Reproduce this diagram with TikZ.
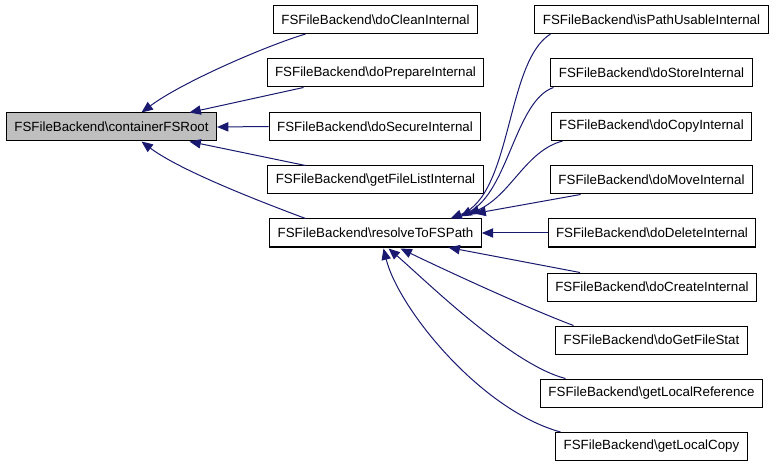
\documentclass[tikz,border=0pt]{standalone}
\usepackage{fontspec}
\setmainfont{Liberation Sans}
\usetikzlibrary{arrows.meta,calc}
\definecolor{calledge}{RGB}{25,25,112}
\definecolor{rootfill}{gray}{0.75}
\tikzset{
	fnbox/.style={draw=black, line width=0.75pt, fill=white, minimum height=21pt, inner xsep=6pt, inner ysep=0pt, font=\fontsize{10}{12}\selectfont},
	rootbox/.style={fnbox, fill=rootfill},
	callline/.style={draw=calledge, line width=0.75pt, -{Triangle[length=8.5pt,width=7pt]}},
}
\newcommand{\fsb}[1]{FSFileBackend\textbackslash #1}

\begin{document}
\begin{tikzpicture}[x=0.75pt,y=-0.75pt]
			\useasboundingbox (0,0) rectangle (776,467);

			% callee
			\node[rootbox] (root) at (111.5,127) {\fsb{containerFSRoot}};

			% middle column
			\node[fnbox] (doclean) at (375.5,19.5) {\fsb{doCleanInternal}};
			\node[fnbox] (doprepare) at (375.5,73) {\fsb{doPrepareInternal}};
			\node[fnbox] (dosecure) at (375,126.5) {\fsb{doSecureInternal}};
			\node[fnbox] (getfilelist) at (375.5,180) {\fsb{getFileListInternal}};
			\node[fnbox] (resolve) at (375.5,233) {\fsb{resolveToFSPath}};

			% right column
			\node[fnbox] (ispath) at (651.5,19.5) {\fsb{isPathUsableInternal}};
			\node[fnbox] (dostore) at (651.5,73) {\fsb{doStoreInternal}};
			\node[fnbox] (docopy) at (651.5,126.5) {\fsb{doCopyInternal}};
			\node[fnbox] (domove) at (651.5,180) {\fsb{doMoveInternal}};
			\node[fnbox] (dodelete) at (652,233) {\fsb{doDeleteInternal}};
			\node[fnbox] (docreate) at (652,287) {\fsb{doCreateInternal}};
			\node[fnbox] (dogetfilestat) at (651.5,340) {\fsb{doGetFileStat}};
			\node[fnbox] (getlocalref) at (651.5,393) {\fsb{getLocalReference}};
			\node[fnbox] (getlocalcopy) at (651.5,446.5) {\fsb{getLocalCopy}};

			% calls into containerFSRoot
			\draw[callline] ($(doclean.south)+(-70,0)$) .. controls +(-40,12) and +(40,-30) .. ($(root.north)+(30,0)$);
			\draw[callline] ($(doprepare.south)+(-72,0)$) -- ($(root.north)+(78,0)$);
			\draw[callline] (dosecure.west) -- (root.east);
			\draw[callline] ($(getfilelist.north)+(-70,0)$) -- ($(root.south)+(78,0)$);
			\draw[callline] ($(resolve.north)+(-70,0)$) .. controls +(-40,-15) and +(40,30) .. ($(root.south)+(30,0)$);

			% calls into resolveToFSPath
			\draw[callline] ($(ispath.south)+(-101,0)$) .. controls +(-45,28) and +(62,-24) .. ($(resolve.north)+(75,0)$);
			\draw[callline] ($(dostore.south)+(-98,0)$) .. controls +(-38,13) and +(48,-26) .. ($(resolve.north)+(85,-2)$);
			\draw[callline] ($(docopy.south)+(-89,0)$) .. controls +(-37,10) and +(43,-20) .. ($(resolve.north)+(93,-4)$);
			\draw[callline] ($(domove.south)+(-71,0)$) -- ($(resolve.north)+(99,-5)$);
			\draw[callline] (dodelete.west) -- (resolve.east);
			\draw[callline] ($(docreate.north)+(-72,0)$) -- ($(resolve.south)+(73,0)$);
			\draw[callline] ($(dogetfilestat.north)+(-78,0)$) .. controls +(-48,-18) and +(37,18) .. ($(resolve.south)+(25,1)$);
			\draw[callline] ($(getlocalref.north)+(-86,0)$) .. controls +(-55,-14) and +(35,30) .. ($(resolve.south)+(13,1)$);
			\draw[callline] ($(getlocalcopy.north)+(-91,0)$) .. controls +(-80,-22) and +(15,60) .. ($(resolve.south)+(8,1)$);

		\end{tikzpicture}
\end{document}
